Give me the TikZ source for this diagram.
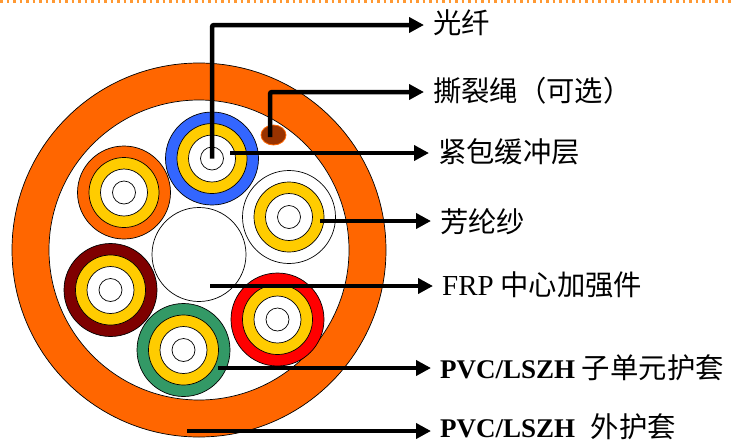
\documentclass[tikz,border=0pt]{standalone}
\usepackage{fontspec}
\setmainfont{Liberation Serif}
\newfontfamily\cjk{Noto Sans CJK SC}[Scale=1.05]
\usetikzlibrary{arrows.meta,shapes.geometric}

\definecolor{sheathorange}{HTML}{FF6600}
\definecolor{bufferyellow}{HTML}{FFCC00}
\definecolor{tubeblue}{HTML}{3366FF}
\definecolor{tubeorange}{HTML}{FF6600}
\definecolor{tubemaroon}{HTML}{7F0000}
\definecolor{tubered}{HTML}{FF0000}
\definecolor{tubegreen}{HTML}{339966}
\definecolor{ripbrown}{HTML}{993300}
\definecolor{dotorange}{HTML}{FF9933}

\tikzset{
  ring/.style={circle, draw=black, line width=0.7pt, inner sep=0pt},
  pics/subunit/.style={code={
    \node[ring, minimum size=93pt, fill=#1] (-jacket) {};
    \node[ring, minimum size=70pt, fill=bufferyellow] (-buffer) {};
    \node[ring, minimum size=47pt, fill=white] (-gel) {};
    \node[ring, minimum size=23pt, fill=white] (-fibre) {};
  }},
  leader/.style={line width=4.5pt, rounded corners=2pt,
    -{Triangle[length=15pt,width=15pt]}, shorten >=9pt},
  lbl/.style={anchor=west, inner sep=0pt, font=\fontsize{27}{31}\selectfont},
}

\begin{document}
\begin{tikzpicture}[x=1pt,y=-1pt]
\useasboundingbox (0,0) rectangle (734,445);

% dotted rule along the top edge
\coordinate (ruleL) at (0,1.5);
\coordinate (ruleR) at (734,1.5);
\draw[dotorange, line width=2.5pt, dash pattern=on 2.5pt off 4pt] (ruleL) -- (ruleR);

% outer jacket
\node[ring, minimum size=374pt, fill=sheathorange] (jacket) at (199,250) {};
\node[ring, minimum size=300pt, fill=white] (core) at (199,250) {};

% central strength member
\node[ring, minimum size=94pt, fill=white] (frp) at (199,254.5) {};

% tight-buffered sub-units
\pic (u1) at (212,158.5) {subunit=tubeblue};
\pic (u2) at (124,192.5) {subunit=tubeorange};
\pic (u3) at (110.5,290) {subunit=tubemaroon};
\pic (u4) at (183.5,350) {subunit=tubegreen};
\pic (u5) at (277.5,319.5) {subunit=tubered};
\pic (u6) at (289,217) {subunit=white};

% ripcord
\node[ellipse, draw=sheathorange, line width=0.8pt, fill=ripbrown,
      minimum width=25pt, minimum height=20pt, inner sep=0pt] (rip) at (273.5,135) {};

% labels
\node[lbl] (tFibre)  at (433,23)  {\cjk 光纤};
\node[lbl] (tRip)    at (433,91)  {\cjk 撕裂绳（可选）};
\node[lbl] (tBuffer) at (438,152) {\cjk 紧包缓冲层};
\node[lbl] (tAramid) at (440,222) {\cjk 芳纶纱};
\node[lbl] (tFRP)    at (442,285) {{\fontsize{29}{31}\selectfont FRP} {\cjk 中心加强件}};
\node[lbl] (tSub)    at (440,368) {\textbf{PVC/LSZH} {\cjk 子单元护套}};
\node[lbl] (tOuter)  at (440,427) {\textbf{PVC/LSZH}\hspace{9pt} {\cjk 外护套}};

% leader start points
\coordinate (sRip)    at (270,137);
\coordinate (sBuffer) at (230,153);
\coordinate (sAramid) at (320,221);
\coordinate (sFRP)    at (210,286);
\coordinate (sSub)    at (218,368);
\coordinate (sOuter)  at (187,431);

% leaders
\draw[leader] (u1-fibre.center) |- ([yshift=-2pt]tFibre.west);
\draw[leader] (sRip) |- ([yshift=-1pt]tRip.west);
\draw[leader] (sBuffer) -- (sBuffer -| tBuffer.west);
\draw[leader] (sAramid) -- (sAramid -| tAramid.west);
\draw[leader] (sFRP) -- (sFRP -| tFRP.west);
\draw[leader] (sSub) -- (sSub -| tSub.west);
\draw[leader] (sOuter) -- (sOuter -| tOuter.west);
\end{tikzpicture}
\end{document}
